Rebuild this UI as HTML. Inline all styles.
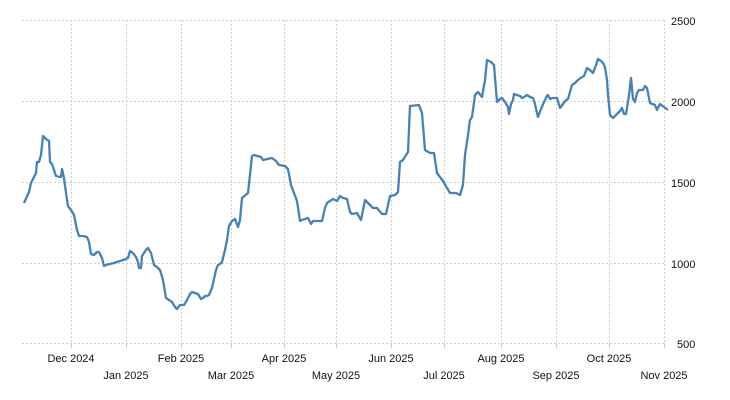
<!DOCTYPE html>
<html><head><meta charset="utf-8"><style>
html,body{margin:0;padding:0;background:#fff;}
svg{display:block;}
text{font-family:"Liberation Sans",sans-serif;font-size:11px;fill:#111;}
</style></head><body>
<svg width="730" height="400" xmlns="http://www.w3.org/2000/svg">
<g stroke="#cfcfcf" stroke-width="1" stroke-dasharray="2,2" fill="none">
<line x1="22" y1="20.5" x2="665" y2="20.5"/>
<line x1="22" y1="101.5" x2="665" y2="101.5"/>
<line x1="22" y1="182.5" x2="665" y2="182.5"/>
<line x1="22" y1="263.5" x2="665" y2="263.5"/>
<line x1="22" y1="343.5" x2="665" y2="343.5"/>
<line x1="71.5" y1="20" x2="71.5" y2="343"/>
<line x1="126.5" y1="20" x2="126.5" y2="343"/>
<line x1="181.5" y1="20" x2="181.5" y2="343"/>
<line x1="231.5" y1="20" x2="231.5" y2="343"/>
<line x1="284.5" y1="20" x2="284.5" y2="343"/>
<line x1="336.5" y1="20" x2="336.5" y2="343"/>
<line x1="391.5" y1="20" x2="391.5" y2="343"/>
<line x1="444.5" y1="20" x2="444.5" y2="343"/>
<line x1="501.5" y1="20" x2="501.5" y2="343"/>
<line x1="556.5" y1="20" x2="556.5" y2="343"/>
<line x1="609.5" y1="20" x2="609.5" y2="343"/>
<line x1="664.5" y1="20" x2="664.5" y2="343"/>
</g>
<g stroke="#ccc" stroke-width="1">
<line x1="71.5" y1="343" x2="71.5" y2="348"/><line x1="126.5" y1="343" x2="126.5" y2="348"/>
<line x1="181.5" y1="343" x2="181.5" y2="348"/><line x1="231.5" y1="343" x2="231.5" y2="348"/>
<line x1="284.5" y1="343" x2="284.5" y2="348"/><line x1="336.5" y1="343" x2="336.5" y2="348"/>
<line x1="391.5" y1="343" x2="391.5" y2="348"/><line x1="444.5" y1="343" x2="444.5" y2="348"/>
<line x1="501.5" y1="343" x2="501.5" y2="348"/><line x1="556.5" y1="343" x2="556.5" y2="348"/>
<line x1="609.5" y1="343" x2="609.5" y2="348"/><line x1="664.5" y1="343" x2="664.5" y2="348"/>
</g>
<polyline fill="none" stroke="#4682b4" stroke-width="2.3" stroke-linejoin="round" points="24,203 29,192 31,183 34,177 36,173 37,162 39,162 41,155 43,136 46,139 49,141 50,162 52,164 56,176 61,177 62,169 64,178 66,193 68,206 71,210 74,215 77,230 79,236 83,236 87,237 89,242 91,254 94,255 97,252 99,252 102,258 104,266 106,265 114,263 126,259 128,258 130,251 133,253 136,257 138,262 139,268 141,268 142,256 146,250 148,248 151,253 154,265 157,267 160,270 163,280 166,298 169,300 172,302 175,307 177,309 180,305 184,305 187,300 190,294 192,292 195,293 198,294 201,299 203,298 205,296 207,296 209,295 212,288 214,279 216,270 218,265 220,264 222,262 225,250 227,240 229,226 232,221 235,219 238,227 240,220 242,198 248,193 252,156 254,155 261,157 263,160 272,158 276,161 279,165 285,166 288,169 291,185 297,201 300,221 302,220 308,218 311,224 313,221 322,221 325,208 327,203 333,199 337,201 340,196 343,198 347,199 350,212 352,214 357,213 361,220 365,200 370,205 373,208 377,208 382,214 386,214 390,196 395,195 398,192 400,162 403,160 408,152 410,106 419,105 422,113 425,150 430,153 434,153 437,173 443,181 447,188 450,193 456,193 460,195 463,185 465,155 468,135 470,120 472,117 475,95 478,92 482,97 485,80 487,60 491,62 494,65 497,102 500,99 502,98 505,102 508,107 509,114 511,104 513,100 514,94 517,95 520,96 522,98 524,97 527,95 530,97 533,98 535,104 537,113 538,117 541,109 544,102 547,96 548,95 550,99 553,98 557,98 560,108 563,104 566,100 568,99 570,92 572,85 575,83 578,80 582,77 584,76 587,68 590,70 593,73 596,65 598,59 601,61 603,63 605,67 607,80 608,95 610,115 613,118 617,114 620,111 622,108 624,114 626,114 629,95 631,78 633,99 635,102 637,93 639,90 643,90 645,86 647,88 650,103 655,105 657,110 660,104 664,107 668,110"/>
<g text-anchor="start">
<text x="671" y="25">2500</text>
<text x="671" y="106">2000</text>
<text x="671" y="187">1500</text>
<text x="671" y="268">1000</text>
<text x="677" y="348">500</text>
</g>
<g text-anchor="middle">
<text x="71" y="362">Dec 2024</text>
<text x="126" y="379">Jan 2025</text>
<text x="181" y="362">Feb 2025</text>
<text x="231" y="379">Mar 2025</text>
<text x="284" y="362">Apr 2025</text>
<text x="336" y="379">May 2025</text>
<text x="391" y="362">Jun 2025</text>
<text x="444" y="379">Jul 2025</text>
<text x="501" y="362">Aug 2025</text>
<text x="556" y="379">Sep 2025</text>
<text x="609" y="362">Oct 2025</text>
<text x="664" y="379">Nov 2025</text>
</g>
</svg>
</body></html>
